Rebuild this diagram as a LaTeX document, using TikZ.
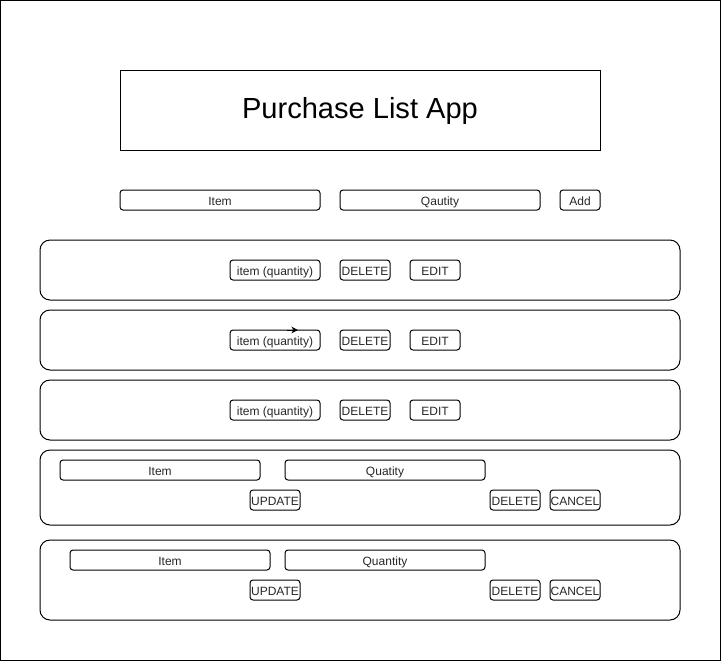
\documentclass[tikz,border=0pt]{standalone}
\usepackage{fontspec}
\setmainfont{Liberation Sans}
\usetikzlibrary{arrows.meta}
\tikzset{
  px/.style={x=0.75pt,y=-0.75pt},
  frame/.style={draw=black,line width=0.75pt},
  panel/.style={draw=black,line width=0.75pt,rounded corners=7.5pt,minimum width=480pt,inner sep=0pt},
  field/.style={draw=black,line width=0.75pt,rounded corners=2.25pt,font=\fontsize{9}{10}\selectfont,text=black!85,minimum height=15pt,inner sep=0pt,text height=9pt,text depth=1.5pt},
  btn/.style={field,minimum width=37.5pt},
  wide/.style={field,minimum width=150pt},
  titlebox/.style={draw=black,line width=0.75pt,font=\fontsize{21.8}{24}\selectfont,minimum width=360pt,minimum height=60pt,inner sep=0pt,text height=16pt,text depth=3pt},
  stray/.style={-{Stealth[length=5pt,width=5pt]},line width=0.75pt}
}
\begin{document}
\begin{tikzpicture}[px]
\useasboundingbox (0,0) rectangle (722,662);
\draw[frame] (0.5,0.5) rectangle (720.5,660.5);
% title
\node[titlebox] (title) at (360,110) {Purchase List App};
% input row
\node[wide] (item) at (220,200) {Item};
\node[wide] (qty) at (440,200) {Qautity};
\node[field,minimum width=30pt] (add) at (580,200) {Add};
% list rows
\foreach \n/\y in {1/270,2/340,3/410}{
  \node[panel,minimum height=45pt] (row\n) at (360,\y) {};
  \node[field,minimum width=67.5pt] (iq\n) at (275,\y) {item (quantity)};
  \node[btn] (del\n) at (365,\y) {DELETE};
  \node[btn] (edit\n) at (435,\y) {EDIT};
}
\coordinate (sa) at (287,330);
\coordinate (sb) at (298,330);
\draw[stray] (sa) -- (sb);
% edit row 4
\node[panel,minimum height=56.25pt] (row4) at (360,487.5) {};
\node[wide] (eitem4) at (160,470) {Item};
\node[wide] (eqty4) at (385,470) {Quatity};
\node[btn] (upd4) at (275,500) {UPDATE};
\node[btn] (edel4) at (515,500) {DELETE};
\node[btn] (can4) at (575,500) {CANCEL};
% edit row 5
\node[panel,minimum height=60pt] (row5) at (360,580) {};
\node[wide] (eitem5) at (170,560) {Item};
\node[wide] (eqty5) at (385,560) {Quantity};
\node[btn] (upd5) at (275,590) {UPDATE};
\node[btn] (edel5) at (515,590) {DELETE};
\node[btn] (can5) at (575,590) {CANCEL};
\end{tikzpicture}
\end{document}
